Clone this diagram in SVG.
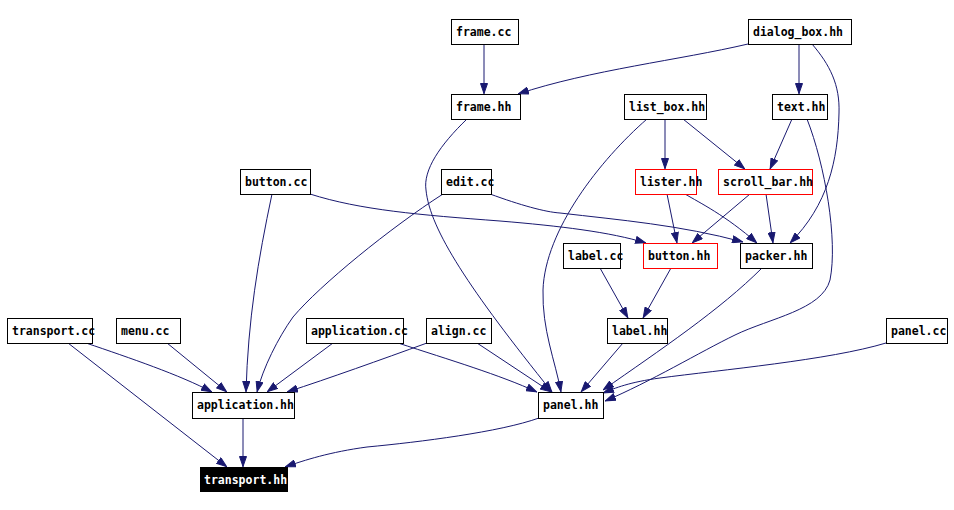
<svg xmlns="http://www.w3.org/2000/svg" width="954" height="510" viewBox="0 0 954 510">
<style>
rect{fill:#fff;stroke:#000;stroke-width:1}
.r rect{stroke:#f00}
.k rect{fill:#000;stroke:#000}
text{font-family:"DejaVu Sans Mono","Liberation Mono",monospace;font-weight:bold;font-size:11.5px;fill:#000}
.k text{fill:#fff}
#edges path{fill:none;stroke:#191970;stroke-width:1;marker-end:url(#ah)}
</style>
<defs>
<marker id="ah" viewBox="0 0 11 8" refX="11" refY="4" markerWidth="11" markerHeight="8" markerUnits="userSpaceOnUse" orient="auto">
<path d="M0.5,0.5 L10.5,4 L0.5,7.5 z" fill="#191970" stroke="#191970"/>
</marker>
</defs>
<rect x="0" y="0" width="954" height="510" style="fill:#fff;stroke:none"/>
<g id="edges">
<path d="M484,44 L484,94"/>
<path d="M748,44 C680,60 590,70 518,94"/>
<path d="M799,44 L799,94"/>
<path d="M812,44 C830,65 840,85 839,113 C838,160 828,205 790,243"/>
<path d="M665,119 L665,169"/>
<path d="M683,119 L745,169"/>
<path d="M647,119 C600,160 545,230 543,290 C542,330 555,360 561,392"/>
<path d="M792,119 L770,169"/>
<path d="M807,119 C825,165 838,240 830,280 C822,310 770,318 735,335 C700,352 650,382 605,401"/>
<path d="M467,119 C440,145 423,170 426,190 C430,230 470,290 552,392"/>
<path d="M272,194 C258,260 248,320 246,392"/>
<path d="M310,194 C360,210 420,215 500,221 C560,226 610,232 646,243"/>
<path d="M443,194 C390,228 320,285 293,317 C278,338 263,368 257,392"/>
<path d="M490,194 C520,205 545,212 560,213 C620,220 680,225 743,242"/>
<path d="M667,194 L677,243"/>
<path d="M685,194 C700,203 725,215 757,243"/>
<path d="M750,194 L692,243"/>
<path d="M766,194 L773,243"/>
<path d="M600,268 L628,318"/>
<path d="M671,268 L643,318"/>
<path d="M762,268 C720,310 660,350 603,390"/>
<path d="M86,343 C130,358 180,375 212,392"/>
<path d="M68,343 L227,467"/>
<path d="M167,343 L227,392"/>
<path d="M333,343 L267,392"/>
<path d="M398,343 C450,360 500,375 537,392"/>
<path d="M427,343 C380,360 330,378 287,392"/>
<path d="M477,343 L551,392"/>
<path d="M623,343 L581,392"/>
<path d="M886,343 C830,360 720,370 660,378 C630,382 615,388 603,393"/>
<path d="M243,418 L243,467"/>
<path d="M539,418 C500,432 420,442 367,447 C330,452 305,460 285,467"/>
</g>
<g id="frame_cc"><rect x="451.5" y="19.5" width="67" height="25"/><text x="456" y="36">frame.cc</text></g>
<g id="dialog_box_hh"><rect x="748.5" y="19.5" width="103" height="25"/><text x="753" y="36">dialog_box.hh</text></g>
<g id="frame_hh"><rect x="451.5" y="94.5" width="69" height="25"/><text x="456" y="111">frame.hh</text></g>
<g id="list_box_hh"><rect x="624.5" y="94.5" width="82" height="25"/><text x="629" y="111">list_box.hh</text></g>
<g id="text_hh"><rect x="772.5" y="94.5" width="55" height="25"/><text x="777" y="111">text.hh</text></g>
<g id="button_cc"><rect x="240.5" y="169.5" width="70" height="25"/><text x="245" y="186">button.cc</text></g>
<g id="edit_cc"><rect x="441.5" y="169.5" width="50" height="25"/><text x="446" y="186">edit.cc</text></g>
<g id="lister_hh" class="r"><rect x="635.5" y="169.5" width="61" height="25"/><text x="640" y="186">lister.hh</text></g>
<g id="scroll_bar_hh" class="r"><rect x="718.5" y="169.5" width="94" height="25"/><text x="723" y="186">scroll_bar.hh</text></g>
<g id="label_cc"><rect x="563.5" y="243.5" width="57" height="25"/><text x="568" y="260">label.cc</text></g>
<g id="button_hh" class="r"><rect x="643.5" y="243.5" width="74" height="25"/><text x="648" y="260">button.hh</text></g>
<g id="packer_hh"><rect x="740.5" y="243.5" width="72" height="25"/><text x="745" y="260">packer.hh</text></g>
<g id="transport_cc"><rect x="7.5" y="318.5" width="85" height="25"/><text x="12" y="335">transport.cc</text></g>
<g id="menu_cc"><rect x="116.5" y="318.5" width="64" height="25"/><text x="121" y="335">menu.cc</text></g>
<g id="application_cc"><rect x="306.5" y="318.5" width="97" height="25"/><text x="311" y="335">application.cc</text></g>
<g id="align_cc"><rect x="426.5" y="318.5" width="65" height="25"/><text x="431" y="335">align.cc</text></g>
<g id="label_hh"><rect x="607.5" y="318.5" width="60" height="25"/><text x="612" y="335">label.hh</text></g>
<g id="panel_cc"><rect x="886.5" y="318.5" width="61" height="25"/><text x="891" y="335">panel.cc</text></g>
<g id="application_hh"><rect x="192.5" y="392.5" width="102" height="26"/><text x="197" y="409">application.hh</text></g>
<g id="panel_hh"><rect x="538.5" y="392.5" width="65" height="26"/><text x="543" y="409">panel.hh</text></g>
<g id="transport_hh" class="k"><rect x="200.5" y="467.5" width="87" height="24"/><text x="204" y="484">transport.hh</text></g>
</svg>
